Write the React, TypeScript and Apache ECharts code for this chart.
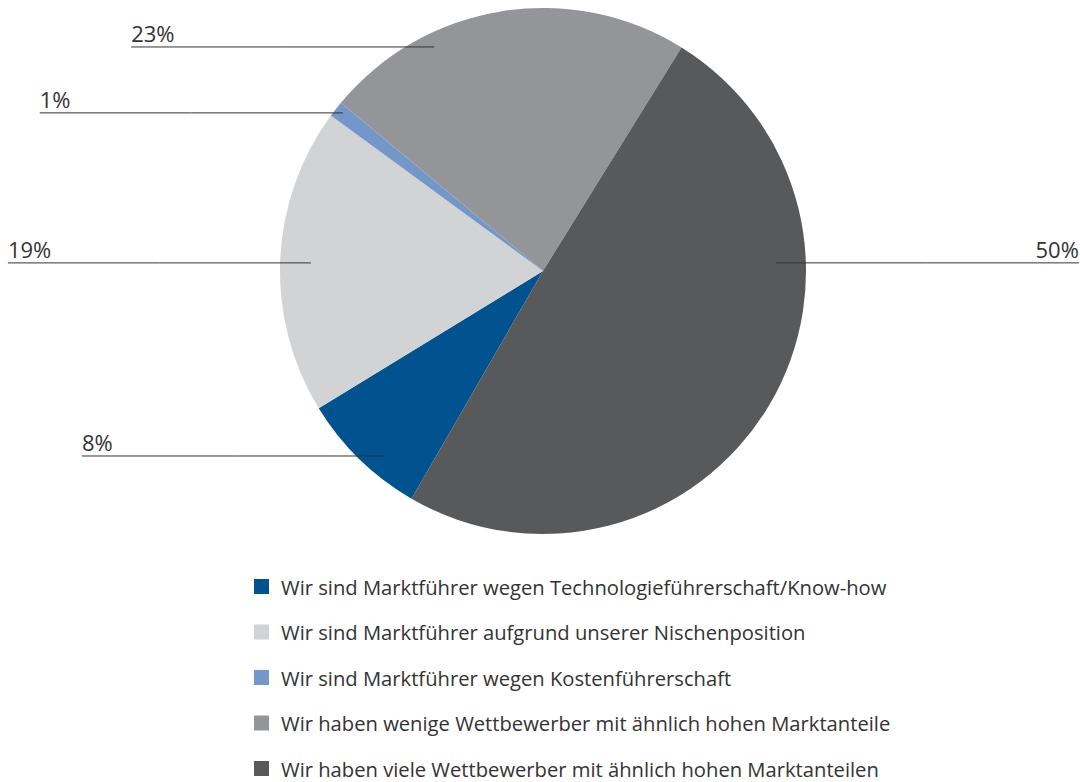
import React, { useEffect, useRef } from "react";
import * as echarts from "echarts";

const categories = [
  "Wir sind Marktführer wegen Technologieführerschaft/Know-how",
  "Wir sind Marktführer aufgrund unserer Nischenposition",
  "Wir sind Marktführer wegen Kostenführerschaft",
  "Wir haben wenige Wettbewerber mit ähnlich hohen Marktanteile",
  "Wir haben viele Wettbewerber mit ähnlich hohen Marktanteilen",
];
const values = [8, 19, 1, 23, 50];
const colors = ["#00538f", "#d1d3d4", "#7397c8", "#939598", "#58595b"];

// label anchor (angle clockwise from top in degrees, radius fraction)
const labelAnchorAngle = [220.5, 272, 308.3, 334.1, 88];
const labelAnchorRadius = [0.925, 0.883, 0.97, 0.947, 0.886];

const CX = 543;
const CY = 271;
const R = 263;
const LINE_LEN = 303;

export default function App() {
  const ref = useRef<HTMLDivElement>(null);
  useEffect(() => {
    const chart = echarts.init(ref.current!, undefined, { renderer: "svg" });
    const font = "'Open Sans', sans-serif";
    const data = categories.map((name, i) => ({ name, value: values[i] }));
    chart.setOption({
      animation: false,
      color: colors,
      legend: {
        orient: "vertical",
        left: 254,
        top: 576.5,
        padding: 0,
        itemWidth: 15,
        itemHeight: 15,
        itemGap: 25.5,
        icon: "rect",
        selectedMode: false,
        textStyle: {
          fontFamily: font,
          fontSize: 20.2,
          color: "#333333",
          lineHeight: 20,
          padding: [0, 0, 0, 7],
        },
        data: categories,
      },
      series: [
        {
          type: "pie",
          z: 2,
          center: [CX, CY],
          radius: [0, R],
          startAngle: -120,
          clockwise: true,
          itemStyle: { borderWidth: 0 },
          emphasis: { disabled: true },
          data,
          label: { show: false },
          labelLine: { show: false },
        },
        {
          type: "pie",
          z: 5,
          center: [CX, CY],
          radius: [0, R],
          startAngle: -120,
          clockwise: true,
          avoidLabelOverlap: false,
          itemStyle: { color: "rgba(0,0,0,0)", borderWidth: 0 },
          emphasis: { disabled: true },
          silent: true,
          legendHoverLink: false,
          data,
          label: {
            show: true,
            position: "outside",
            formatter: (p: any) => `${p.value}%`,
            fontFamily: font,
            fontSize: 22,
            color: "#333333",
          },
          labelLine: {
            show: true,
            length: 10,
            length2: 10,
            smooth: false,
            lineStyle: { color: "#333333", width: 1, opacity: 1 },
          },
          labelLayout: (params: any) => {
            const i = params.dataIndex;
            const a = (labelAnchorAngle[i] * Math.PI) / 180;
            const r = labelAnchorRadius[i] * R;
            const x0 = CX + r * Math.sin(a);
            const y0 = CY - r * Math.cos(a);
            const right = Math.sin(a) > 0;
            const x1 = right ? x0 + LINE_LEN : x0 - LINE_LEN;
            return {
              x: x1,
              y: y0 - 3,
              align: right ? "right" : "left",
              verticalAlign: "bottom",
              labelLinePoints: [
                [x0, y0],
                [(x0 + x1) / 2, y0],
                [x1, y0],
              ],
            };
          },
        },
      ],
    });
    return () => chart.dispose();
  }, []);
  return (
    <div
      ref={ref}
      style={{ position: "fixed", left: 0, top: 0, width: 1080, height: 782, background: "#ffffff" }}
    />
  );
}
